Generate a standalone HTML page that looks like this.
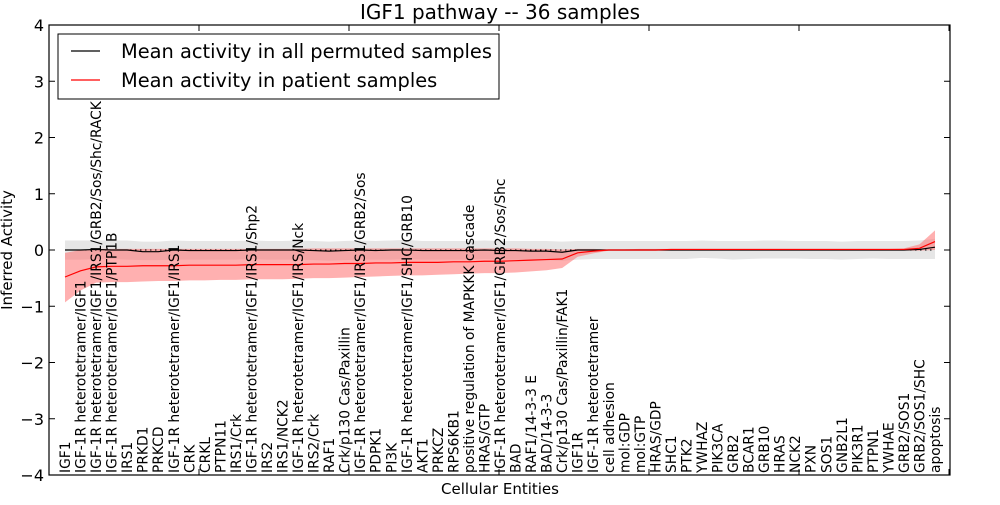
<!DOCTYPE html>
<html><head><meta charset="utf-8"><style>
body{margin:0;background:#fff}
svg{font-family:"DejaVu Sans","Liberation Sans",sans-serif}
</style></head><body>
<svg id="chart" width="1000" height="500">
<rect width="1000" height="500" fill="#fff"/>
<text x="500" y="19" text-anchor="middle" font-size="20">IGF1 pathway -- 36 samples</text>
<g id="bands"></g><g id="lines"></g><g id="labels"></g>
<rect x="49" y="25" width="901" height="450" fill="none" stroke="#000" stroke-width="1.2"/>
<g id="yaxis"></g>
<text x="500" y="494" text-anchor="middle" font-size="15">Cellular Entities</text>
<text transform="translate(12,250) rotate(-90)" text-anchor="middle" font-size="15">Inferred Activity</text>
<g>
<rect x="58" y="34" width="441" height="65" fill="#fff" stroke="#000" stroke-width="1"/>
<line x1="71" y1="51" x2="100" y2="51" stroke="#000" stroke-width="1.2"/>
<text x="121" y="58" font-size="19.4">Mean activity in all permuted samples</text>
<line x1="71" y1="80" x2="100" y2="80" stroke="#f00" stroke-width="1.2"/>
<text x="121" y="87" font-size="19.4">Mean activity in patient samples</text>
</g>
</svg>
<script>
const categories=["IGF1","IGF-1R heterotetramer/IGF1","IGF-1R heterotetramer/IGF1/IRS1/GRB2/Sos/Shc/RACK","IGF-1R heterotetramer/IGF1/PTP1B","IRS1","PRKD1","PRKCD","IGF-1R heterotetramer/IGF1/IRS1","CRK","CRKL","PTPN11","IRS1/Crk","IGF-1R heterotetramer/IGF1/IRS1/Shp2","IRS2","IRS1/NCK2","IGF-1R heterotetramer/IGF1/IRS/Nck","IRS2/Crk","RAF1","Crk/p130 Cas/Paxillin","IGF-1R heterotetramer/IGF1/IRS1/GRB2/Sos","PDPK1","PI3K","IGF-1R heterotetramer/IGF1/SHC/GRB10","AKT1","PRKCZ","RPS6KB1","positive regulation of MAPKKK cascade","HRAS/GTP","IGF-1R heterotetramer/IGF1/GRB2/Sos/Shc","BAD","RAF1/14-3-3 E","BAD/14-3-3","Crk/p130 Cas/Paxillin/FAK1","IGF1R","IGF-1R heterotetramer","cell adhesion","mol:GDP","mol:GTP","HRAS/GDP","SHC1","PTK2","YWHAZ","PIK3CA","GRB2","BCAR1","GRB10","HRAS","NCK2","PXN","SOS1","GNB2L1","PIK3R1","PTPN1","YWHAE","GRB2/SOS1","GRB2/SOS1/SHC","apoptosis"];
const permMean=[0,0,0.01,0,0,-0.03,-0.03,0,-0.01,-0.01,-0.01,-0.01,0,0,0,0,-0.01,-0.02,-0.01,0,-0.01,0,0,-0.01,-0.01,-0.01,-0.01,0,-0.01,-0.01,-0.02,-0.02,-0.04,0,0,0,0,0,0,0,0,0,0,0,0,0,0,0,0,0,0,0,0,0,0,0.01,0.05];
const permLow=[-0.17,-0.17,-0.16,-0.16,-0.17,-0.18,-0.18,-0.17,-0.17,-0.17,-0.17,-0.17,-0.16,-0.17,-0.17,-0.17,-0.18,-0.19,-0.18,-0.17,-0.17,-0.17,-0.16,-0.17,-0.17,-0.17,-0.17,-0.16,-0.17,-0.17,-0.18,-0.18,-0.19,-0.17,-0.16,-0.16,-0.16,-0.16,-0.16,-0.16,-0.16,-0.14,-0.15,-0.17,-0.16,-0.15,-0.15,-0.15,-0.16,-0.16,-0.17,-0.16,-0.15,-0.16,-0.16,-0.16,-0.16];
const permHigh=[0.17,0.17,0.17,0.17,0.17,0.15,0.15,0.17,0.16,0.16,0.16,0.16,0.17,0.16,0.16,0.17,0.16,0.15,0.16,0.17,0.16,0.17,0.18,0.16,0.16,0.16,0.16,0.17,0.16,0.16,0.16,0.16,0.15,0.16,0.16,0.16,0.16,0.16,0.16,0.16,0.16,0.17,0.16,0.16,0.16,0.17,0.17,0.16,0.16,0.16,0.15,0.16,0.16,0.16,0.16,0.17,0.2];
const patMean=[-0.48,-0.37,-0.3,-0.29,-0.29,-0.28,-0.28,-0.28,-0.27,-0.27,-0.27,-0.27,-0.26,-0.26,-0.26,-0.26,-0.25,-0.25,-0.24,-0.24,-0.23,-0.23,-0.22,-0.22,-0.22,-0.21,-0.21,-0.2,-0.2,-0.19,-0.18,-0.17,-0.16,-0.05,-0.02,0,0,0,0,0.01,0.01,0.01,0.01,0.01,0.01,0.01,0.01,0.01,0.01,0.01,0.01,0.01,0.01,0.01,0.01,0.03,0.15];
const patLow=[-0.93,-0.72,-0.58,-0.57,-0.57,-0.56,-0.55,-0.55,-0.54,-0.54,-0.53,-0.53,-0.52,-0.52,-0.52,-0.51,-0.5,-0.5,-0.49,-0.48,-0.47,-0.46,-0.45,-0.45,-0.44,-0.43,-0.42,-0.41,-0.41,-0.4,-0.38,-0.36,-0.32,-0.12,-0.06,-0.01,-0.01,-0.01,-0.01,-0.01,-0.01,-0.01,-0.01,-0.01,-0.01,-0.01,-0.01,-0.01,-0.01,-0.01,-0.01,-0.01,-0.01,-0.01,-0.01,-0.01,0];
const patHigh=[-0.05,0,0.02,0.02,0.02,0.02,0.02,0.02,0.02,0.02,0.02,0.02,0.02,0.02,0.02,0.02,0.03,0.03,0.03,0.03,0.03,0.03,0.03,0.03,0.03,0.03,0.03,0.03,0.03,0.03,0.02,0.02,0.01,0.02,0.02,0.01,0.01,0.02,0.02,0.02,0.02,0.02,0.02,0.02,0.02,0.02,0.02,0.02,0.02,0.02,0.02,0.02,0.02,0.02,0.03,0.1,0.35];
const yTicks=[4,3,2,1,0,-1,-2,-3,-4];
const xTicks=[0,10,20,30,40,50,60];
const NS="http://www.w3.org/2000/svg";
const X=i=>65+i*(870/(categories.length-1));
const XT=v=>49+v*15;
const Y=v=>250-v*56.25;
function mk(t,a,p){const e=document.createElementNS(NS,t);for(const k in a)e.setAttribute(k,a[k]);p.appendChild(e);return e;}
function band(lo,hi){let d="M"+lo.map((v,i)=>X(i)+","+Y(hi[i])).join("L");for(let i=lo.length-1;i>=0;i--)d+="L"+X(i)+","+Y(lo[i]);return d+"Z";}
function line(a){return "M"+a.map((v,i)=>X(i)+","+Y(v)).join("L");}
const B=document.getElementById("bands"),L=document.getElementById("lines"),T=document.getElementById("labels"),YA=document.getElementById("yaxis");
let e=mk("path",{d:band(permLow,permHigh),fill:"#d8d8d8","fill-opacity":"0.65"},B);


e=mk("path",{d:band(patLow,patHigh),fill:"#ff7070","fill-opacity":"0.55"},B);


e=mk("line",{x1:X(0),x2:X(categories.length-1),y1:Y(0),y2:Y(0),stroke:"#000","stroke-dasharray":"1.5,3.5","stroke-width":1},L);


e=mk("path",{d:line(permMean),fill:"none",stroke:"#000","stroke-width":1.2},L);


e=mk("path",{d:line(patMean),fill:"none",stroke:"#f00","stroke-width":1.2},L);


categories.forEach((c,i)=>{
 const t=mk("text",{transform:`translate(${X(i)+5},473) rotate(-90)`,"font-size":"13.8"},T);
 t.textContent=c;
 
 
});
xTicks.forEach(v=>{
 mk("line",{x1:XT(v),x2:XT(v),y1:25,y2:31,stroke:"#000"},YA);
 mk("line",{x1:XT(v),x2:XT(v),y1:469,y2:475,stroke:"#000"},YA);
});
yTicks.forEach(v=>{
 const t=mk("text",{x:44,y:Y(v)+6,"text-anchor":"end","font-size":"16"},YA);
 t.textContent=v<0?"\u2212"+(-v):String(v);
 
 
 mk("line",{x1:49,x2:55,y1:Y(v),y2:Y(v),stroke:"#000"},YA);
 mk("line",{x1:944,x2:950,y1:Y(v),y2:Y(v),stroke:"#000"},YA);
});
</script>
</body></html>
